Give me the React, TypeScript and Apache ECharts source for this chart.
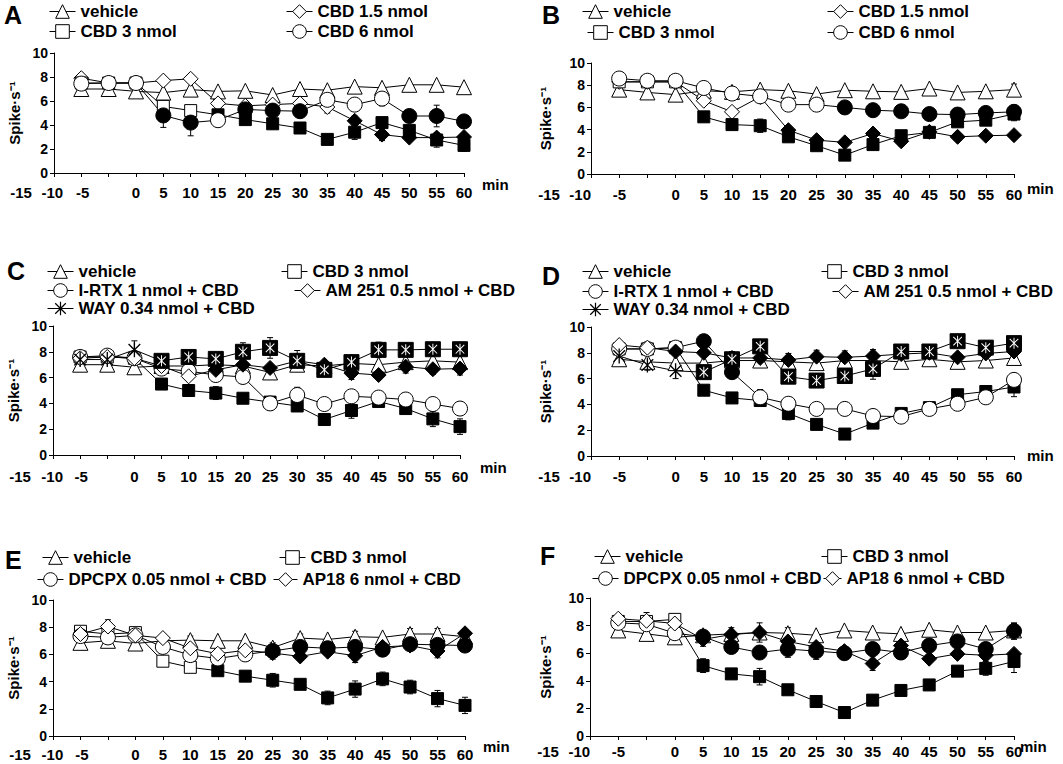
import React, { useEffect, useRef } from 'react';
import * as echarts from 'echarts';

const TIME = [-10, -5, 0, 5, 10, 15, 20, 25, 30, 35, 40, 45, 50, 55, 60];
const X_MIN = -15;
const X_MAX = 60;
const Y_MAX = 10;

// ---------- Panel A ----------
const A_vehicle = [7.0, 7.0, 6.8, 6.7, 6.95, 6.8, 6.85, 6.5, 7.0, 6.9, 7.2, 7.1, 7.35, 7.35, 7.15];
const A_cbd15 = [7.9, 7.5, 7.5, 7.7, 7.85, 5.8, 5.6, 5.7, 5.8, 5.5, 4.35, 3.2, 2.95, 2.95, 3.0];
const A_cbd15_fill = [0, 0, 0, 0, 0, 0, 0, 0, 0, 0, 1, 1, 1, 1, 1];
const A_cbd15_err = [0, 0, 0, 0, 0, 0, 0, 0, 0, 0.5, 0.4, 0.5, 0, 0, 0];
const A_cbd3 = [7.5, 7.5, 7.5, 5.55, 5.2, 4.85, 4.45, 4.1, 3.75, 2.8, 3.4, 4.2, 3.55, 2.75, 2.3];
const A_cbd3_fill = [0, 0, 0, 0, 0, 1, 1, 1, 1, 1, 1, 1, 1, 1, 1];
const A_cbd3_err = [0, 0, 0, 0, 0, 0, 0, 0.4, 0, 0, 0.6, 0, 0, 0.6, 0.5];
const A_cbd6 = [7.45, 7.5, 7.5, 4.8, 4.2, 4.4, 5.3, 5.2, 5.15, 6.1, 5.7, 6.2, 4.75, 4.75, 4.3];
const A_cbd6_fill = [0, 0, 0, 1, 1, 0, 1, 1, 1, 0, 0, 0, 1, 1, 1];
const A_cbd6_err = [0, 0, 0, 1.0, 1.1, 0, 0, 0, 0, 0, 0, 0.6, 0, 0.9, 0];

// ---------- Panel B ----------
const B_vehicle = [7.6, 7.35, 7.15, 7.5, 7.4, 7.6, 7.5, 7.2, 7.55, 7.45, 7.4, 7.7, 7.35, 7.45, 7.6];
const B_vehicle_err = [0, 0, 0, 0, 0.4, 0, 0, 0, 0, 0, 0, 0, 0, 0, 0.5];
const B_cbd15 = [8.3, 8.3, 8.3, 6.6, 5.6, 6.95, 3.95, 3.05, 2.85, 3.65, 2.95, 3.8, 3.35, 3.45, 3.5];
const B_cbd15_fill = [0, 0, 0, 0, 0, 0, 1, 1, 1, 1, 1, 1, 1, 1, 1];
const B_cbd15_err = [0, 0, 0, 0, 0, 0, 0, 0, 0, 0, 0.4, 0.4, 0, 0, 0];
const B_cbd3 = [8.3, 8.3, 8.3, 5.15, 4.45, 4.35, 3.35, 2.55, 1.7, 2.65, 3.45, 3.75, 4.7, 4.85, 5.4];
const B_cbd3_fill = [0, 0, 0, 1, 1, 1, 1, 1, 1, 1, 1, 1, 1, 1, 1];
const B_cbd3_err = [0, 0, 0, 0, 0, 0.6, 0, 0, 0, 0, 0, 0, 0, 0, 0.6];
const B_cbd6 = [8.6, 8.4, 8.4, 7.75, 7.25, 7.0, 6.25, 6.25, 6.0, 5.75, 5.65, 5.4, 5.35, 5.5, 5.6];
const B_cbd6_fill = [0, 0, 0, 0, 0, 0, 0, 0, 1, 1, 1, 1, 1, 1, 1];
const B_cbd6_err = [0, 0, 0, 0, 0, 0, 0, 0, 0, 0, 0.4, 0, 0, 0, 0.6];

// ---------- Panel C ----------
const C_vehicle = [7.0, 7.0, 6.8, 6.9, 6.9, 7.0, 6.9, 6.4, 7.0, 6.9, 7.1, 7.0, 7.2, 7.3, 7.2];
const C_cbd3 = [7.6, 7.6, 7.5, 5.5, 5.0, 4.8, 4.4, 4.1, 3.8, 2.75, 3.45, 4.15, 3.6, 2.8, 2.2];
const C_cbd3_fill = [0, 0, 0, 1, 1, 1, 1, 1, 1, 1, 1, 1, 1, 1, 1];
const C_cbd3_err = [0, 0, 0, 0, 0, 0.5, 0, 0, 0, 0, 0.6, 0, 0, 0.6, 0.6];
const C_irtx = [7.6, 7.7, 7.5, 6.7, 6.5, 6.2, 6.05, 4.0, 4.65, 3.95, 4.55, 4.45, 4.3, 3.95, 3.6];
const C_irtx_fill = [0, 0, 0, 0, 0, 0, 0, 0, 0, 0, 0, 0, 0, 0, 0];
const C_irtx_err = [0, 0, 0, 0, 0, 0, 0, 0.5, 0.6, 0, 0, 0, 0, 0, 0.5];
const C_am251 = [7.5, 7.6, 7.5, 6.9, 6.1, 6.6, 7.0, 6.75, 7.3, 7.0, 6.35, 6.2, 6.85, 6.65, 6.7];
const C_am251_fill = [0, 0, 0, 0, 0, 1, 1, 1, 1, 1, 1, 1, 1, 1, 1];
const C_am251_err = [0, 0, 0, 0, 0, 0, 0, 0, 0.5, 0, 0.5, 0, 0.5, 0.4, 0.5];
const C_way = [7.4, 7.4, 8.15, 7.3, 7.6, 7.45, 8.0, 8.3, 7.3, 6.6, 7.2, 8.15, 8.15, 8.2, 8.2];
const C_way_box = [0, 0, 0, 1, 1, 1, 1, 1, 1, 1, 1, 1, 1, 1, 1];
const C_way_err = [0, 0, 0.7, 0, 0, 0, 0.7, 0.8, 0.8, 0, 0, 0.6, 0, 0, 0];

// ---------- Panel D ----------
const D_vehicle = [7.5, 7.3, 7.2, 7.2, 7.4, 7.4, 7.3, 7.2, 7.4, 7.4, 7.3, 7.5, 7.3, 7.4, 7.6];
const D_cbd3 = [8.3, 8.3, 8.4, 5.1, 4.5, 4.3, 3.3, 2.45, 1.7, 2.55, 3.3, 3.75, 4.75, 5.0, 5.35];
const D_cbd3_fill = [0, 0, 0, 1, 1, 1, 1, 1, 1, 1, 1, 1, 1, 1, 1];
const D_cbd3_err = [0, 0, 0, 0, 0, 0, 0.5, 0, 0, 0.4, 0, 0, 0, 0, 0.75];
const D_irtx = [8.3, 8.3, 8.4, 8.9, 6.5, 4.55, 4.05, 3.65, 3.65, 3.1, 3.05, 3.65, 4.05, 4.55, 5.9];
const D_irtx_fill = [0, 0, 0, 1, 1, 0, 0, 0, 0, 0, 0, 0, 0, 0, 0];
const D_irtx_err = [0, 0, 0, 0, 0, 0.6, 0.5, 0, 0.5, 0, 0, 0, 0.4, 0, 0];
const D_am251 = [8.6, 8.4, 8.1, 8.0, 7.6, 7.6, 7.45, 7.7, 7.65, 7.75, 7.9, 8.0, 7.65, 7.95, 8.1];
const D_am251_fill = [0, 0, 1, 1, 1, 1, 1, 1, 1, 1, 1, 1, 1, 1, 1];
const D_am251_err = [0, 0, 0, 0, 0, 0, 0.5, 0.5, 0.5, 0.5, 0, 0, 0, 0, 0];
const D_way = [7.75, 7.05, 6.6, 6.5, 7.5, 8.5, 6.15, 5.85, 6.2, 6.75, 8.1, 8.1, 8.9, 8.4, 8.75];
const D_way_box = [0, 0, 0, 1, 1, 1, 1, 1, 1, 1, 1, 1, 1, 1, 1];
const D_way_err = [0, 0.4, 0.6, 0, 0.6, 0, 0, 0.5, 0, 0.8, 0, 0, 0, 0, 0];

// ---------- Panel E ----------
const E_vehicle = [6.85, 7.0, 6.8, 7.0, 7.05, 7.0, 7.0, 6.5, 7.2, 7.1, 7.3, 7.25, 7.5, 7.5, 7.3];
const E_vehicle_err = [0, 0, 0, 0, 0.3, 0, 0, 0, 0.3, 0, 0.4, 0, 0.4, 0.4, 0];
const E_cbd3 = [7.7, 7.5, 7.6, 5.5, 5.05, 4.8, 4.4, 4.1, 3.8, 2.8, 3.45, 4.2, 3.6, 2.75, 2.25];
const E_cbd3_fill = [0, 0, 0, 0, 0, 1, 1, 1, 1, 1, 1, 1, 1, 1, 1];
const E_cbd3_err = [0, 0, 0, 0, 0, 0, 0, 0.5, 0, 0.5, 0.6, 0.5, 0.5, 0.6, 0.6];
const E_dpcpx = [7.35, 7.25, 7.4, 6.55, 5.95, 5.7, 6.0, 6.25, 6.55, 6.45, 6.55, 6.35, 6.75, 6.7, 6.65];
const E_dpcpx_fill = [0, 0, 0, 0, 0, 0, 0, 1, 1, 1, 1, 1, 1, 1, 1];
const E_dpcpx_err = [0, 0, 0, 0, 0, 0.4, 0.5, 0.6, 0, 0, 0, 0, 0, 0, 0];
const E_ap18 = [7.5, 8.05, 7.4, 7.2, 6.45, 6.05, 6.3, 6.1, 5.85, 6.2, 5.9, 6.55, 6.65, 6.25, 7.55];
const E_ap18_fill = [0, 0, 0, 0, 0, 0, 0, 1, 1, 1, 1, 1, 1, 1, 1];
const E_ap18_err = [0, 0.5, 0, 0, 0, 0, 0, 0, 0, 0, 0.5, 0, 0, 0.5, 0];

// ---------- Panel F ----------
const F_vehicle = [7.65, 7.4, 7.15, 7.3, 7.4, 7.5, 7.45, 7.3, 7.65, 7.5, 7.4, 7.7, 7.5, 7.5, 7.65];
const F_vehicle_err = [0, 0, 0, 0, 0, 0, 0.4, 0, 0, 0, 0, 0, 0, 0, 0.5];
const F_cbd3 = [8.3, 8.3, 8.45, 5.1, 4.5, 4.3, 3.35, 2.5, 1.7, 2.6, 3.3, 3.7, 4.7, 4.9, 5.4];
const F_cbd3_fill = [0, 0, 0, 1, 1, 1, 1, 1, 1, 1, 1, 1, 1, 1, 1];
const F_cbd3_err = [0, 0, 0, 0.5, 0, 0.6, 0, 0, 0, 0, 0, 0, 0, 0.5, 0.8];
const F_dpcpx = [8.2, 8.1, 7.45, 7.2, 6.45, 6.05, 6.3, 6.15, 6.0, 6.3, 6.05, 6.55, 6.85, 6.3, 7.6];
const F_dpcpx_fill = [0, 0, 0, 1, 1, 1, 1, 1, 1, 1, 1, 1, 1, 1, 1];
const F_dpcpx_err = [0, 0, 0, 0, 0, 0, 0.6, 0.6, 0, 0, 0.5, 0, 0, 0, 0.6];
const F_ap18 = [8.5, 8.35, 8.15, 7.0, 7.35, 7.5, 6.85, 6.45, 6.15, 5.25, 6.55, 5.6, 5.95, 5.85, 5.95];
const F_ap18_fill = [0, 0, 0, 1, 1, 1, 1, 1, 1, 1, 1, 1, 1, 1, 1];
const F_ap18_err = [0, 0.6, 0, 0.5, 0.5, 0.7, 0, 0, 0, 0.5, 0, 0, 0, 0, 0];

// ---------- Labels ----------
const L_vehicle = 'vehicle';
const L_cbd15 = 'CBD 1.5 nmol';
const L_cbd3 = 'CBD 3 nmol';
const L_cbd6 = 'CBD 6 nmol';
const L_irtx = 'I-RTX 1 nmol + CBD';
const L_am251 = 'AM 251 0.5 nmol + CBD';
const L_way = 'WAY 0.34 nmol + CBD';
const L_dpcpx = 'DPCPX 0.05 nmol + CBD';
const L_ap18 = 'AP18 6 nmol + CBD';
const Y_NAME = 'Spike·s⁻¹';
const X_NAME = 'min';

const FONT = '"Liberation Sans", Arial, Helvetica, sans-serif';
const ASTERISK =
  'path://M1 10L1.001 10L1.001 10.001Z M19 10L18.999 10L18.999 10.001Z ' +
  'M9.2 1L10.8 1L10.8 19L9.2 19Z M3.57 2.43L17.57 16.43L16.43 17.57L2.43 3.57Z M16.43 2.43L17.57 3.57L3.57 17.57L2.43 16.43Z';

type Ser = {
  label: string;
  sym: string;
  size: number;
  vals: number[];
  fill?: number[];
  err?: number[];
  box?: number[];
  lx: number;
  ly: number;
  iw?: number;
};

type Panel = {
  key: string;
  grid: { left: number; top: number; width: number; height: number };
  letter: [number, number];
  yNameGap: number;
  labelMargin: number;
  minPos: [number, number];
  shifts: [number, number, number];
  series: Ser[];
};

const PANELS: Panel[] = [
  {
    key: 'A', grid: { left: 54, top: 53, width: 410, height: 120 }, letter: [4, 2],
    yNameGap: 32, labelMargin: 12, minPos: [482, 184], shifts: [33, 29, 26],
    series: [
      { label: L_vehicle, sym: 'triangle', size: 15, vals: A_vehicle, lx: 80, ly: 12 },
      { label: L_cbd15, sym: 'diamond', size: 15, vals: A_cbd15, fill: A_cbd15_fill, err: A_cbd15_err, lx: 317, ly: 12 },
      { label: L_cbd3, sym: 'rect', size: 12, vals: A_cbd3, fill: A_cbd3_fill, err: A_cbd3_err, lx: 80, ly: 32 },
      { label: L_cbd6, sym: 'circle', size: 15, vals: A_cbd6, fill: A_cbd6_fill, err: A_cbd6_err, lx: 317, ly: 32 },
    ],
  },
  {
    key: 'B', grid: { left: 591, top: 63, width: 423, height: 111 }, letter: [542, 2],
    yNameGap: 38, labelMargin: 13, minPos: [1027, 188], shifts: [42, 39, 28],
    series: [
      { label: L_vehicle, sym: 'triangle', size: 15, vals: B_vehicle, err: B_vehicle_err, lx: 613, ly: 12 },
      { label: L_cbd15, sym: 'diamond', size: 15, vals: B_cbd15, fill: B_cbd15_fill, err: B_cbd15_err, lx: 858, ly: 12 },
      { label: L_cbd3, sym: 'rect', size: 12, vals: B_cbd3, fill: B_cbd3_fill, err: B_cbd3_err, lx: 618, ly: 33 },
      { label: L_cbd6, sym: 'circle', size: 15, vals: B_cbd6, fill: B_cbd6_fill, err: B_cbd6_err, lx: 858, ly: 33 },
    ],
  },
  {
    key: 'C', grid: { left: 53, top: 326, width: 407, height: 129 }, letter: [7, 258],
    yNameGap: 32, labelMargin: 14, minPos: [480, 467], shifts: [33, 28, 26],
    series: [
      { label: L_vehicle, sym: 'triangle', size: 15, vals: C_vehicle, lx: 78, ly: 272 },
      { label: L_cbd3, sym: 'rect', size: 12, vals: C_cbd3, fill: C_cbd3_fill, err: C_cbd3_err, lx: 312, ly: 272 },
      { label: L_irtx, sym: 'circle', size: 15, vals: C_irtx, fill: C_irtx_fill, err: C_irtx_err, lx: 78, ly: 291 },
      { label: L_am251, sym: 'diamond', size: 15, vals: C_am251, fill: C_am251_fill, err: C_am251_err, lx: 325, ly: 291 },
      { label: L_way, sym: ASTERISK, size: 15, vals: C_way, box: C_way_box, err: C_way_err, lx: 78, ly: 309 },
    ],
  },
  {
    key: 'D', grid: { left: 591, top: 327, width: 423, height: 129 }, letter: [542, 263],
    yNameGap: 38, labelMargin: 13, minPos: [1027, 455], shifts: [42, 39, 28],
    series: [
      { label: L_vehicle, sym: 'triangle', size: 15, vals: D_vehicle, lx: 613, ly: 272 },
      { label: L_cbd3, sym: 'rect', size: 12, vals: D_cbd3, fill: D_cbd3_fill, err: D_cbd3_err, lx: 852, ly: 272 },
      { label: L_irtx, sym: 'circle', size: 15, vals: D_irtx, fill: D_irtx_fill, err: D_irtx_err, lx: 613, ly: 292 },
      { label: L_am251, sym: 'diamond', size: 15, vals: D_am251, fill: D_am251_fill, err: D_am251_err, lx: 863, ly: 292 },
      { label: L_way, sym: ASTERISK, size: 15, vals: D_way, box: D_way_box, err: D_way_err, lx: 613, ly: 310 },
    ],
  },
  {
    key: 'E', grid: { left: 53, top: 600, width: 412, height: 136 }, letter: [5, 547],
    yNameGap: 32, labelMargin: 11, minPos: [483, 746], shifts: [33, 28, 26],
    series: [
      { label: L_vehicle, sym: 'triangle', size: 15, vals: E_vehicle, err: E_vehicle_err, lx: 73, ly: 558 },
      { label: L_cbd3, sym: 'rect', size: 12, vals: E_cbd3, fill: E_cbd3_fill, err: E_cbd3_err, lx: 310, ly: 558 },
      { label: L_dpcpx, sym: 'circle', size: 15, vals: E_dpcpx, fill: E_dpcpx_fill, err: E_dpcpx_err, lx: 68, ly: 580 },
      { label: L_ap18, sym: 'diamond', size: 15, vals: E_ap18, fill: E_ap18_fill, err: E_ap18_err, lx: 302, ly: 580, iw: 24 },
    ],
  },
  {
    key: 'F', grid: { left: 590, top: 598, width: 424, height: 138 }, letter: [540, 543],
    yNameGap: 37, labelMargin: 8, minPos: [1020, 746], shifts: [42, 39, 28],
    series: [
      { label: L_vehicle, sym: 'triangle', size: 15, vals: F_vehicle, err: F_vehicle_err, lx: 625, ly: 557 },
      { label: L_cbd3, sym: 'rect', size: 12, vals: F_cbd3, fill: F_cbd3_fill, err: F_cbd3_err, lx: 852, ly: 557 },
      { label: L_dpcpx, sym: 'circle', size: 15, vals: F_dpcpx, fill: F_dpcpx_fill, err: F_dpcpx_err, lx: 623, ly: 579 },
      { label: L_ap18, sym: 'diamond', size: 15, vals: F_ap18, fill: F_ap18_fill, err: F_ap18_err, lx: 846, ly: 579, iw: 18 },
    ],
  },
];

const renderErr = (_params: any, api: any) => {
  const x = api.value(0);
  const y = api.value(1);
  const e = api.value(2);
  const p1 = api.coord([x, y + e]);
  const p2 = api.coord([x, y - e]);
  const c = 3;
  const st = { stroke: '#000', lineWidth: 1 };
  return {
    type: 'group',
    children: [
      { type: 'line', shape: { x1: p1[0], y1: p1[1], x2: p2[0], y2: p2[1] }, style: st },
      { type: 'line', shape: { x1: p1[0] - c, y1: p1[1], x2: p1[0] + c, y2: p1[1] }, style: st },
      { type: 'line', shape: { x1: p2[0] - c, y1: p2[1], x2: p2[0] + c, y2: p2[1] }, style: st },
    ],
  };
};

function buildOption() {
  const grids: any[] = [];
  const xAxes: any[] = [];
  const yAxes: any[] = [];
  const series: any[] = [];
  const legends: any[] = [];
  const graphics: any[] = [];

  PANELS.forEach((p, i) => {
    grids.push({ ...p.grid, containLabel: false });
    const [s15, s10, s5] = p.shifts;
    const lab = { fontFamily: FONT, fontWeight: 'bold', fontSize: 15, color: '#000' };
    xAxes.push({
      type: 'value', gridIndex: i, min: X_MIN, max: X_MAX, interval: 5,
      splitLine: { show: false },
      axisLine: { onZero: false, lineStyle: { color: '#000', width: 1 } },
      axisTick: { length: 4, lineStyle: { color: '#000' } },
      axisLabel: {
        margin: p.labelMargin, ...lab,
        formatter: (v: number) => {
          if (v === -15) return '{a|' + v + '}';
          if (v === -10) return '{b|' + v + '}';
          if (v === -5) return '{c|' + v + '}';
          return String(v);
        },
        rich: {
          a: { ...lab, padding: [0, 2 * s15, 0, 0] },
          b: { ...lab, padding: [0, 2 * s10, 0, 0] },
          c: { ...lab, padding: [0, 2 * s5, 0, 0] },
        },
      },
    });
    yAxes.push({
      type: 'value', gridIndex: i, min: 0, max: Y_MAX, interval: 2,
      name: Y_NAME, nameLocation: 'middle', nameGap: p.yNameGap,
      nameTextStyle: { fontFamily: FONT, fontWeight: 'bold', fontSize: 15, color: '#000' },
      splitLine: { show: false },
      axisLine: { show: true, onZero: false, lineStyle: { color: '#000', width: 1 } },
      axisTick: { show: true, length: 4, lineStyle: { color: '#000' } },
      axisLabel: { margin: 6, fontFamily: FONT, fontWeight: 'bold', fontSize: 14, color: '#000' },
    });

    // error bars
    const errData: number[][] = [];
    p.series.forEach((s) => {
      if (!s.err) return;
      s.err.forEach((e, j) => {
        if (e > 0) errData.push([TIME[j], s.vals[j], e]);
      });
    });
    series.push({
      type: 'custom', xAxisIndex: i, yAxisIndex: i, z: 1, silent: true,
      renderItem: renderErr, data: errData, encode: { x: 0, y: 1 },
    });

    p.series.forEach((s) => {
      const sid = s.label + '|' + p.key;
      const isWay = !!s.box;
      series.push({
        type: 'line', name: sid, xAxisIndex: i, yAxisIndex: i, z: 2, silent: true,
        symbol: s.sym, symbolSize: s.size, symbolKeepAspect: true, showAllSymbol: true,
        lineStyle: { color: '#000', width: 1 },
        itemStyle: isWay
          ? { color: '#000', borderWidth: 0 }
          : { color: '#fff', borderColor: '#000', borderWidth: 1 },
        data: TIME.map((t, j) => ({
          value: [t, s.vals[j]],
          itemStyle: isWay ? { color: '#000' } : { color: s.fill && s.fill[j] ? '#000' : '#fff' },
        })),
      });
      if (isWay) {
        const boxed = TIME.map((t, j) => [t, s.vals[j]]).filter((_, j) => s.box![j]);
        series.push({
          type: 'scatter', name: sid + '#box', xAxisIndex: i, yAxisIndex: i, z: 3, silent: true,
          symbol: 'rect', symbolSize: 15,
          itemStyle: { color: '#000', borderColor: '#000', borderWidth: 1, opacity: 1 },
          data: boxed,
        });
        series.push({
          type: 'scatter', name: sid + '#star', xAxisIndex: i, yAxisIndex: i, z: 4, silent: true,
          symbol: s.sym, symbolSize: 11, symbolKeepAspect: true,
          itemStyle: { color: '#fff', borderWidth: 0, opacity: 1 },
          data: boxed,
        });
      }
      const iw = s.iw ?? 26;
      legends.push({
        data: [sid], left: s.lx - iw - 5, top: s.ly - 9, padding: 0, itemGap: 0,
        itemWidth: iw, itemHeight: 17, selectedMode: false, orient: 'horizontal',
        formatter: (n: string) => n.split('|')[0],
        textStyle: { fontFamily: FONT, fontWeight: 'bold', fontSize: 17, color: '#000' },
        lineStyle: { color: '#000', width: 1 },
        itemStyle: isWay
          ? { color: '#000', borderWidth: 0 }
          : { color: '#fff', borderColor: '#000', borderWidth: 1 },
      });
    });

    graphics.push({
      type: 'text', left: p.letter[0], top: p.letter[1],
      style: { text: p.key, fontFamily: FONT, fontWeight: 'bold', fontSize: 25, fill: '#000' },
    });
    graphics.push({
      type: 'text', x: p.minPos[0], y: p.minPos[1],
      style: {
        text: X_NAME, fontFamily: FONT, fontWeight: 'bold', fontSize: 15, fill: '#000',
        align: 'left', verticalAlign: 'middle',
      },
    });
  });

  return {
    animation: false,
    backgroundColor: '#fff',
    grid: grids,
    xAxis: xAxes,
    yAxis: yAxes,
    legend: legends,
    series,
    graphic: graphics,
  };
}

export default function App() {
  const ref = useRef<HTMLDivElement | null>(null);
  useEffect(() => {
    if (!ref.current) return;
    const chart = echarts.init(ref.current, null, { renderer: 'svg' });
    chart.setOption(buildOption() as any);
    return () => chart.dispose();
  }, []);
  return (
    <div
      ref={ref}
      style={{ position: 'fixed', left: 0, top: 0, width: 1063, height: 764, background: '#fff' }}
    />
  );
}
